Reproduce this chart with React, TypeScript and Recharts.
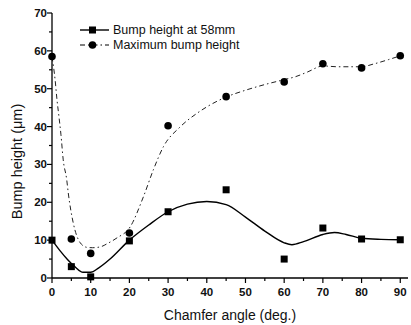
import React from "react";
import {
  ComposedChart,
  Line,
  Scatter,
  XAxis,
  YAxis,
  Label,
} from "recharts";

// measured points
const angles = [0, 5, 10, 20, 30, 45, 60, 70, 80, 90];
const bumpAt58 = [10, 3, 0.3, 9.8, 17.5, 23.3, 5, 13.2, 10.3, 10.1];
const maxBump = [58.5, 10.3, 6.5, 11.9, 40.2, 47.9, 51.8, 56.6, 55.5, 58.7];

// fitted curves
const fitAnglesSolid = [0, 2, 4, 6, 8, 10, 12, 15, 20, 25, 30, 35, 40, 45, 50, 55, 60, 62, 65, 70, 73, 76, 80, 85, 90];
const fitSolid = [10, 7.3, 4.9, 2.9, 1.5, 1.5, 2.6, 5, 10, 14, 17.5, 19.5, 20.2, 19.4, 16.1, 12.4, 9.3, 8.8, 9.6, 11.5, 12, 11.5, 10.5, 10.2, 10.1];

const fitAnglesDash = [0, 0.8, 1.3, 1.8, 2.3, 2.9, 3.8, 4.2, 5.5, 7.3, 9, 10.5, 12.4, 14.5, 16.8, 20.2, 23.6, 26.2, 28.8, 33, 37.6, 40, 45, 50, 55, 60, 63, 66, 70, 74, 80, 83, 87, 90];
const fitDash = [58.5, 52.4, 47, 42.6, 38, 31.2, 26, 22.5, 14.5, 9.3, 8.1, 8, 8.2, 9.2, 10.6, 13.5, 21.4, 28.6, 34.7, 39.8, 43.6, 45.2, 47.8, 49.6, 51.1, 52.4, 53.2, 54.4, 56, 55.8, 55.8, 56.5, 57.7, 58.7];

const xTicks = [0, 5, 10, 15, 20, 25, 30, 35, 40, 45, 50, 55, 60, 65, 70, 75, 80, 85, 90];
const yTicks = [0, 5, 10, 15, 20, 25, 30, 35, 40, 45, 50, 55, 60, 65, 70];

const legendNames = ["Bump height at 58mm", "Maximum bump height"];

const squareData = angles.map((a, i) => ({ x: a, y: bumpAt58[i] }));
const circleData = angles.map((a, i) => ({ x: a, y: maxBump[i] }));
const solidData = fitAnglesSolid.map((a, i) => ({ x: a, y: fitSolid[i] }));
const dashData = fitAnglesDash.map((a, i) => ({ x: a, y: fitDash[i] }));

const FONT = "'Liberation Sans', Arial, sans-serif";
const DASH = "5 3 1.5 3";

const XTick = ({ x, y, payload }: any) => {
  const major = payload.value % 10 === 0;
  return (
    <g>
      <line x1={x} x2={x} y1={y} y2={y + (major ? 5 : 3)} stroke="#000" strokeWidth={1.2} />
      {major && (
        <text x={x} y={y + 18} textAnchor="middle" fontSize={11.5} fontWeight="bold" fontFamily={FONT} fill="#111">
          {payload.value}
        </text>
      )}
    </g>
  );
};

const YTick = ({ x, y, payload }: any) => {
  const major = payload.value % 10 === 0;
  return (
    <g>
      <line x1={x} x2={x - (major ? 5 : 3)} y1={y} y2={y} stroke="#000" strokeWidth={1.2} />
      {major && (
        <text x={x - 5} y={y + 4} textAnchor="end" fontSize={11.5} fontWeight="bold" fontFamily={FONT} fill="#111">
          {payload.value}
        </text>
      )}
    </g>
  );
};

const YTitle = ({ viewBox }: any) => {
  const cx = 17;
  const cy = viewBox.y + viewBox.height / 2 + 16;
  return (
    <text
      x={cx}
      y={cy}
      transform={`rotate(-90 ${cx} ${cy})`}
      textAnchor="middle"
      dominantBaseline="central"
      fontSize={14.5}
      fontFamily={FONT}
      fill="#111"
    >
      Bump height (μm)
    </text>
  );
};

const Square = ({ cx, cy }: any) => <rect x={cx - 3.5} y={cy - 3.5} width={7} height={7} fill="#000" />;
const Dot = ({ cx, cy }: any) => <circle cx={cx} cy={cy} r={3.8} fill="#000" />;

const LegendBox = () => (
  <div style={{ position: "absolute", left: 78, top: 23, fontFamily: FONT, fontSize: 12.5, color: "#111" }}>
    {legendNames.map((name, i) => (
      <div key={name} style={{ display: "flex", alignItems: "center", height: 14.5 }}>
        <svg width={34} height={12}>
          <line x1={2} x2={31} y1={6} y2={6} stroke="#000" strokeWidth={i === 0 ? 1.4 : 1} strokeDasharray={i === 0 ? undefined : DASH} />
          {i === 0 ? <rect x={11} y={2.5} width={7} height={7} fill="#000" /> : <circle cx={14.5} cy={6} r={3.8} fill="#000" />}
        </svg>
        <span style={{ marginLeft: 1 }}>{name}</span>
      </div>
    ))}
  </div>
);

export default function App() {
  return (
    <div style={{ position: "absolute", left: 0, top: 0, width: 411, height: 325, background: "#fff" }}>
      <ComposedChart width={411} height={325} margin={{ top: 13, right: 3, bottom: 0, left: 0 }}>
        <XAxis
          type="number"
          dataKey="x"
          domain={[0, 92]}
          ticks={xTicks}
          interval={0}
          tick={<XTick />}
          tickLine={false}
          tickSize={0}
          tickMargin={0}
          height={47}
          axisLine={{ stroke: "#000", strokeWidth: 1.3 }}
          allowDuplicatedCategory={false}
        >
          <Label
            value="Chamfer angle (deg.)"
            position="insideBottom"
            offset={5}
            style={{ fontSize: 14, fontFamily: FONT, fill: "#111" }}
          />
        </XAxis>
        <YAxis
          type="number"
          domain={[0, 70]}
          ticks={yTicks}
          interval={0}
          tick={<YTick />}
          tickLine={false}
          tickSize={0}
          tickMargin={0}
          width={52}
          axisLine={{ stroke: "#000", strokeWidth: 1.3 }}
        >
          <Label content={<YTitle />} />
        </YAxis>
        <Line
          data={solidData}
          dataKey="y"
          type="monotone"
          stroke="#000"
          strokeWidth={1.4}
          dot={false}
          isAnimationActive={false}
        />
        <Line
          data={dashData}
          dataKey="y"
          type="monotone"
          stroke="#222"
          strokeWidth={1}
          strokeDasharray={DASH}
          dot={false}
          isAnimationActive={false}
        />
        <Scatter data={squareData} dataKey="y" shape={<Square />} isAnimationActive={false} />
        <Scatter data={circleData} dataKey="y" shape={<Dot />} isAnimationActive={false} />
      </ComposedChart>
      <LegendBox />
    </div>
  );
}
